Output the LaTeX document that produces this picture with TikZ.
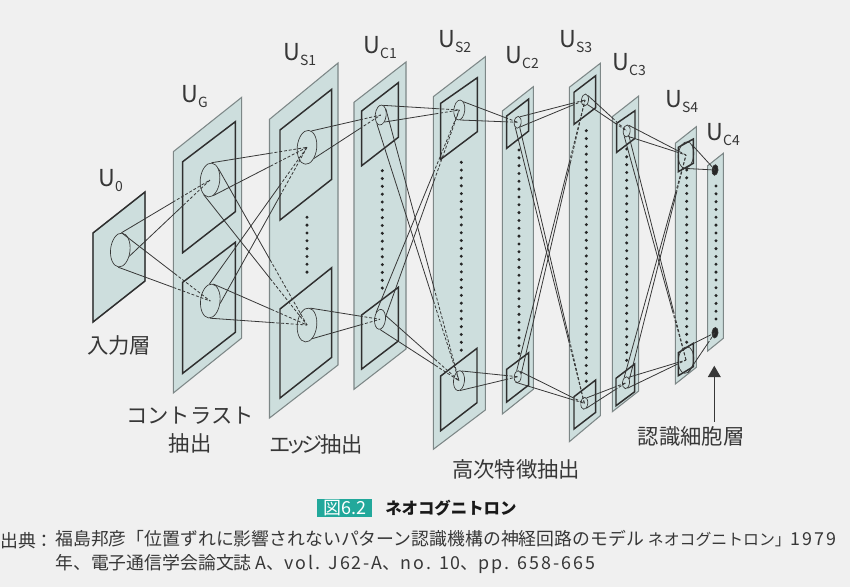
\documentclass[tikz,border=0pt]{standalone}
\usepackage{fontspec}
\setmainfont{Noto Sans CJK JP}
\usetikzlibrary{shapes.geometric, arrows.meta, calc}
\definecolor{paper}{RGB}{240,240,240}
\definecolor{sheet}{RGB}{205,222,221}
\definecolor{sheetline}{RGB}{125,135,135}
\definecolor{ink}{RGB}{55,55,55}
\definecolor{badge}{RGB}{34,168,155}
\tikzset{
  font={\fontsize{16pt}{18pt}\selectfont},
  plane/.style={draw=sheetline, fill=sheet, line width=.8pt},
  plate/.style={draw=ink!85!black, line width=1.1pt},
  dotrow/.style={line width=2.5pt, line cap=round, dash pattern=on 0pt off 5.87pt, color=black!85},
  cell/.style={draw=ink, ellipse, inner sep=0pt, line width=.5pt, rotate=-6},
  cella/.style={cell, minimum width=14.6pt, minimum height=25.5pt},
  cellb/.style={cell, minimum width=8.2pt, minimum height=15pt},
  cellc/.style={cell, minimum width=5.2pt, minimum height=9pt},
  celld/.style={cell, minimum width=11.5pt, minimum height=20pt},
  celle/.style={cell, fill=black!85, minimum width=4.6pt, minimum height=8pt},
  wire/.style={draw=ink, line width=.6pt},
  hidden/.style={wire, dash pattern=on 2.2pt off 1.4pt},
  layer/.style={anchor=base west, text=ink, inner sep=0pt, font={\fontsize{17.5pt}{18pt}\selectfont}},
  note/.style={text=ink, inner sep=0pt, align=center},
  source/.style={text=ink, inner sep=0pt, font={\fontsize{13.4pt}{18pt}\selectfont}}
}
\newcommand{\sub}[1]{\raisebox{-.45ex}{\fontsize{10.5pt}{12pt}\selectfont #1}}
\newcommand{\spaced}[1]{{\addfontfeature{LetterSpace=11}#1}}
\newcommand{\link}[3]{
  \draw[wire] (#1) -- ($(#1)!#3!(#2)$);
  \draw[hidden] ($(#1)!#3!(#2)$) -- (#2);
}
\begin{document}
\begin{tikzpicture}[x=.75pt, y=-.75pt]
  \fill[paper] (0,0) rectangle (850,587);
  \path[use as bounding box] (0,0) rectangle (850,587);
  % sheets
  \draw[plane] (93,233) -- (145,192) -- (145,281) -- (93,322) -- cycle;
  \draw[plane] (173.3,151.7) -- (241.7,97.3) -- (241.7,338) -- (173.3,393) -- cycle;
  \draw[plane] (269.5,119.3) -- (338,63) -- (338,365) -- (269.5,418) -- cycle;
  \draw[plane] (354,102.3) -- (406,62) -- (406,349) -- (354,389.3) -- cycle;
  \draw[plane] (433.3,96.7) -- (485.3,56.7) -- (485.3,410) -- (433.3,449.3) -- cycle;
  \draw[plane] (502.3,111) -- (533.3,86.7) -- (533.3,389.3) -- (502.3,414) -- cycle;
  \draw[plane] (569.3,87.3) -- (600.3,63.3) -- (600.3,415.7) -- (569.3,441.7) -- cycle;
  \draw[plane] (612.3,116.7) -- (638.7,96) -- (638.7,391) -- (612.3,411.7) -- cycle;
  \draw[plane] (675.3,143.3) -- (696.3,126.7) -- (696.3,367.3) -- (675.3,384) -- cycle;
  \draw[plane] (707.7,165.7) -- (723.3,153.3) -- (723.3,338.3) -- (707.7,351) -- cycle;
  % plates
  \draw[plate] (93,233) -- (145,192) -- (145,281) -- (93,322) -- cycle;
  \draw[plate] (182.7,161.7) -- (235.3,121.7) -- (235.3,211.7) -- (182.7,252.7) -- cycle;
  \draw[plate] (182.7,282.3) -- (235.3,242.3) -- (235.3,332.3) -- (182.7,373.3) -- cycle;
  \draw[plate] (280,130) -- (331.7,89.3) -- (331.7,179.3) -- (280,220) -- cycle;
  \draw[plate] (280,309) -- (331.7,267.7) -- (331.7,357.3) -- (280,398) -- cycle;
  \draw[plate] (361.7,111) -- (398.3,82.7) -- (398.3,137.3) -- (361.7,165.7) -- cycle;
  \draw[plate] (361.7,315) -- (398.3,287.3) -- (398.3,341) -- (361.7,369) -- cycle;
  \draw[plate] (440.7,103.3) -- (477.3,77.7) -- (477.3,131.7) -- (440.7,159.3) -- cycle;
  \draw[plate] (440.7,376) -- (477,348.3) -- (477,402.7) -- (440.7,430.7) -- cycle;
  \draw[plate] (506.7,116) -- (528.7,99) -- (528.7,131) -- (506.7,148.3) -- cycle;
  \draw[plate] (506.7,369.3) -- (528.7,352.7) -- (528.7,385) -- (506.7,402) -- cycle;
  \draw[plate] (574,92.3) -- (595.7,75.7) -- (595.7,107.7) -- (574,124.3) -- cycle;
  \draw[plate] (574,396.7) -- (595.7,380) -- (595.7,412.3) -- (574,429) -- cycle;
  \draw[plate] (616.7,123.3) -- (635,110.7) -- (635,138.3) -- (616.7,152.3) -- cycle;
  \draw[plate] (616,378.3) -- (634.7,364) -- (634.7,391.7) -- (616,405.7) -- cycle;
  \draw[plate] (678.3,147.3) -- (693.3,139) -- (693.3,163.3) -- (678.3,171.7) -- cycle;
  \draw[plate] (678.3,352.7) -- (693.3,343.3) -- (693.3,366.7) -- (678.3,375.7) -- cycle;
  % dots
  \draw[dotrow] (307,217.3) -- (307,273);
  \draw[dotrow] (382.3,170.7) -- (382.3,289);
  \draw[dotrow] (461.3,162.3) -- (461.3,351);
  \draw[dotrow] (519,150) -- (519,355);
  \draw[dotrow] (586.3,130.7) -- (586.3,382);
  \draw[dotrow] (626.7,149) -- (626.7,361);
  \draw[dotrow] (686.7,170) -- (686.7,344);
  \draw[dotrow] (716,186) -- (716,320);
  % cells
  \node (u0) [cella] at (120.3,250) {};
  \node (ug1) [cella] at (210,180) {};
  \node (ug2) [cella] at (210.3,301) {};
  \node (us1a) [cella] at (307,147.3) {};
  \node (us1b) [cella] at (307,325) {};
  \node (uc1a) [cellb] at (380.7,115) {};
  \node (uc1b) [cellb] at (380,319.3) {};
  \node (us2a) [cellb] at (459.3,110) {};
  \node (us2b) [cellb] at (459,380.7) {};
  \node (uc2a) [cellc] at (517.7,122.3) {};
  \node (uc2b) [cellc] at (517.7,376.7) {};
  \node (us3a) [cellc] at (585,100) {};
  \node (us3b) [cellc] at (584.3,403.3) {};
  \node (uc3a) [cellc] at (626.7,131) {};
  \node (uc3b) [cellc] at (626,382.7) {};
  \node (us4a) [celld] at (686,155) {};
  \node (us4b) [celld] at (686,360) {};
  \node (uc4a) [celle] at (715,170) {};
  \node (uc4b) [celle] at (715,332.7) {};
  % connections
  \link{u0.92}{ug1.center}{.58}
  \link{u0.-29}{ug1.center}{.67}
  \link{u0.92}{ug2.center}{.6}
  \link{u0.-91}{ug2.center}{.6}
  \link{ug1.91}{us1a.center}{.61}
  \link{ug1.-72}{us1a.center}{.61}
  \link{ug1.60}{us1b.center}{.585}
  \link{ug1.-108}{us1b.center}{.645}
  \link{ug2.99}{us1a.center}{.72}
  \link{ug2.-8}{us1a.center}{.69}
  \link{ug2.86}{us1b.center}{.62}
  \link{ug2.-85}{us1b.center}{.635}
  \link{us1a.81}{uc1a.center}{.7}
  \link{us1a.-52}{uc1a.center}{.685}
  \link{us1b.85}{uc1b.center}{.71}
  \link{us1b.-63}{uc1b.center}{.71}
  \link{uc1a.80}{us2a.center}{.7}
  \link{uc1a.-56}{us2a.center}{.68}
  \link{uc1a.55}{us2b.center}{.66}
  \link{uc1a.-109}{us2b.center}{.69}
  \link{uc1b.127}{us2a.center}{.69}
  \link{uc1b.34}{us2a.center}{.66}
  \link{uc1b.39}{us2b.center}{.67}
  \link{uc1b.-84}{us2b.center}{.7}
  \link{us2a.70}{uc2a.center}{.77}
  \link{us2a.-80}{uc2a.center}{.785}
  \link{us2b.81}{uc2b.center}{.77}
  \link{us2b.-78}{uc2b.center}{.785}
  \link{uc2a.74}{us3a.center}{.8}
  \link{uc2a.-59}{us3a.center}{.79}
  \link{uc2a.-62}{us3b.center}{.77}
  \link{uc2a.-108}{us3b.center}{.77}
  \link{uc2b.106}{us3a.center}{.77}
  \link{uc2b.46}{us3a.center}{.77}
  \link{uc2b.71}{us3b.center}{.795}
  \link{uc2b.-106}{us3b.center}{.81}
  \link{us3a.62}{uc3a.center}{.63}
  \link{us3a.-56}{uc3a.center}{.7}
  \link{us3b.73}{uc3b.center}{.68}
  \link{us3b.-62}{uc3b.center}{.72}
  \link{uc3a.78}{us4a.center}{.81}
  \link{uc3a.-68}{us4a.center}{.82}
  \link{uc3a.-59}{us4b.center}{.78}
  \link{uc3a.-109}{us4b.center}{.78}
  \link{uc3b.116}{us4a.center}{.83}
  \link{uc3b.51}{us4a.center}{.83}
  \link{uc3b.72}{us4b.center}{.81}
  \link{uc3b.-68}{us4b.center}{.82}
  \link{us4a.66}{uc4a.center}{.78}
  \link{us4a.-95}{uc4a.center}{.79}
  \link{us4b.89}{uc4b.center}{.76}
  \link{us4b.-76}{uc4b.center}{.73}
  % layer names
  \node (n0) [layer] at (98,186) {U\sub{0}};
  \node (ng) [layer] at (181,102) {U\sub{G}};
  \node (ns1) [layer] at (283,60) {U\sub{S1}};
  \node (nc1) [layer] at (363,53) {U\sub{C1}};
  \node (ns2) [layer] at (438,47) {U\sub{S2}};
  \node (nc2) [layer] at (505,63) {U\sub{C2}};
  \node (ns3) [layer] at (559,47) {U\sub{S3}};
  \node (nc3) [layer] at (612,70) {U\sub{C3}};
  \node (ns4) [layer] at (665,107) {U\sub{S4}};
  \node (nc4) [layer] at (706,140) {U\sub{C4}};
  % labels
  \node (input) [note] at (119,345) {入力層};
  \node (contrast) [note] at (190,430) {コントラスト\\[3pt]抽出};
  \node (edge) [note] at (316,444) {エ\kern-3.5ptッ\kern-4.5ptジ\kern-1.5pt抽出};
  \node (high) [note] at (516,469) {高次特徴抽出};
  \node (recog) [note] at (691,436) {認識細胞層};
  \coordinate (tip) at (714.3,365.7);
  \draw[ink, line width=1.1pt, -{Triangle[length=8.5pt,width=9.5pt]}] ([yshift=3pt]tip |- recog.north) -- (tip);
  % caption
  \node (badgebox) [fill=badge, text=white, inner sep=0pt, minimum width=41.5pt, minimum height=13.5pt, font={\fontsize{13.5pt}{14pt}\selectfont}] at (344.5,507.8) {図6.2};
  \node (title) [anchor=west, inner sep=0pt, text=black!90, font={\fontsize{12.3pt}{14pt}\selectfont\bfseries}] at (385,507.8) {ネオコグニトロン};
  \node (srckey) [source, anchor=base west] at (0,547) {出典：};
  \node (srctext) [source, anchor=north west, align=left] at (55,529.5) {福島邦彦「位置ずれに影響されないパターン認識機構の神経回路のモデル {\fontsize{11.9pt}{18pt}\selectfont ネオコグニトロン」}\spaced{1979}\\年、電子通信学会論文誌 \spaced{A}、\spaced{vol. J62-A}、\spaced{no. 10}、\spaced{pp. 658-665}};
\end{tikzpicture}
\end{document}
